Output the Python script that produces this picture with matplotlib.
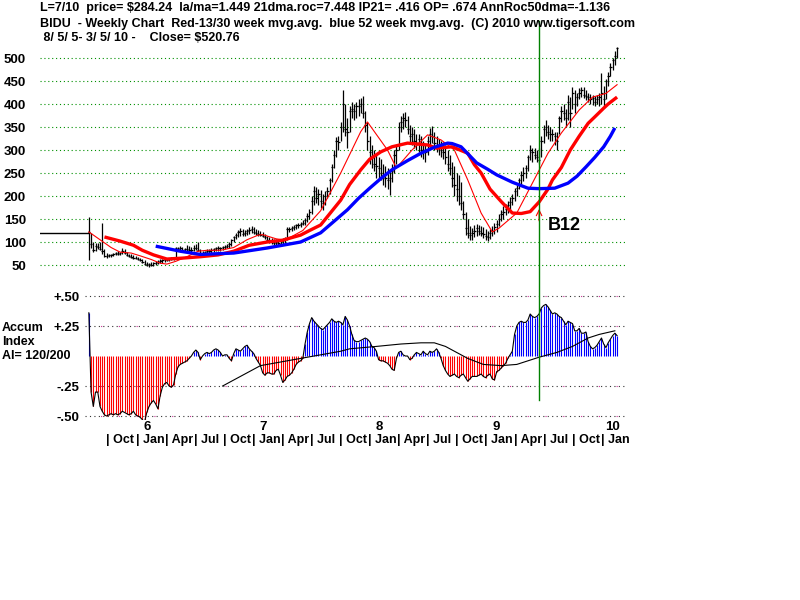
import numpy as np
import matplotlib
matplotlib.use('Agg')
import matplotlib.pyplot as plt
import matplotlib.transforms as mtransforms
from matplotlib.lines import Line2D

# weekly BIDU bars, first week = IPO week 8/5/2005
close = [122, 95, 82, 92, 90, 85, 80, 70, 70, 71,
         72, 74, 76, 74, 77, 80, 76, 72, 70, 68,
         66, 65, 62, 60, 56, 52, 50, 52, 50, 54,
         55, 57, 58, 60, 62, 61, 63, 64, 66, 86,
         84, 86, 82, 84, 85, 83, 82, 88, 86, 82,
         76, 75, 78, 80, 81, 82, 85, 86, 88, 86,
         89, 90, 92, 96, 104, 110, 116, 122, 124, 118,
         120, 124, 126, 128, 122, 120, 118, 116, 114, 110,
         104, 102, 100, 98, 100, 98, 102, 104, 106, 128,
         128, 130, 132, 136, 138, 140, 142, 148, 156, 166,
         190, 210, 195, 205, 190, 185, 200, 210, 235, 262,
         290, 320, 318, 350, 400, 345, 340, 385, 390, 385,
         395, 395, 400, 380, 355, 320, 295, 285, 270, 265,
         260, 250, 245, 240, 235, 240, 255, 290, 300, 350,
         360, 370, 365, 345, 330, 335, 320, 315, 325, 300,
         300, 295, 320, 335, 330, 315, 310, 305, 300, 295,
         285, 270, 260, 240, 225, 215, 200, 185, 160, 130,
         120, 115, 120, 125, 130, 125, 120, 118, 112, 110,
         120, 125, 132, 140, 150, 160, 165, 172, 180, 188,
         195, 210, 218, 235, 245, 250, 260, 285, 300, 295,
         290, 285, 278, 320, 345, 350, 340, 335, 335, 330,
         320, 370, 385, 380, 370, 405, 380, 425, 400, 415,
         425, 430, 420, 418, 415, 410, 412, 405, 410, 415,
         425, 410, 450, 460, 480, 495, 505, 520.76]
high = [154, 120, 100, 98, 97, 100, 142, 85, 76, 75,
        75, 77, 78, 80, 79, 86, 84, 78, 75, 74,
        72, 70, 68, 66, 62, 60, 56, 55, 57, 56,
        58, 60, 62, 63, 64, 66, 65, 67, 68, 90,
        90, 92, 90, 88, 94, 92, 90, 94, 96, 99,
        84, 80, 80, 84, 84, 86, 88, 90, 92, 90,
        92, 94, 96, 100, 106, 114, 120, 126, 130, 128,
        126, 128, 132, 134, 132, 128, 126, 124, 122, 118,
        114, 110, 108, 106, 106, 104, 106, 108, 110, 132,
        132, 134, 136, 140, 142, 144, 148, 152, 162, 172,
        200, 222, 220, 215, 212, 205, 210, 220, 240, 270,
        300, 328, 330, 360, 430, 400, 370, 395, 405, 400,
        405, 410, 412, 418, 385, 360, 330, 310, 300, 290,
        285, 280, 270, 265, 260, 255, 270, 300, 310, 360,
        375, 380, 382, 375, 355, 350, 345, 335, 335, 330,
        320, 310, 330, 348, 352, 340, 330, 325, 320, 318,
        310, 300, 290, 275, 265, 250, 245, 230, 190, 165,
        150, 135, 130, 138, 140, 138, 135, 132, 128, 125,
        128, 135, 142, 148, 160, 170, 178, 182, 190, 198,
        205, 218, 225, 240, 255, 262, 268, 290, 310, 305,
        305, 300, 305, 330, 355, 365, 355, 350, 345, 340,
        340, 375, 395, 400, 390, 420, 415, 437, 430, 425,
        435, 438, 436, 430, 425, 422, 420, 418, 420, 425,
        468, 440, 455, 470, 490, 500, 515, 525]
low = [61, 88, 78, 80, 84, 82, 74, 68, 66, 67,
       68, 70, 71, 72, 72, 74, 74, 70, 68, 66,
       64, 62, 60, 58, 54, 50, 47, 46, 48, 47,
       50, 52, 54, 55, 57, 58, 58, 60, 61, 62,
       80, 80, 78, 78, 80, 80, 78, 80, 82, 80,
       72, 72, 73, 75, 76, 77, 78, 80, 81, 80,
       82, 84, 86, 88, 92, 100, 106, 110, 114, 114,
       114, 116, 118, 120, 118, 116, 114, 112, 110, 106,
       100, 98, 96, 94, 94, 94, 96, 96, 98, 104,
       122, 124, 126, 128, 130, 132, 136, 138, 144, 150,
       160, 180, 185, 180, 175, 170, 180, 195, 205, 230,
       260, 285, 300, 320, 340, 330, 305, 340, 370, 365,
       370, 375, 380, 370, 340, 300, 270, 260, 255, 240,
       240, 235, 225, 220, 215, 202, 230, 250, 270, 300,
       340, 345, 350, 335, 315, 310, 305, 300, 295, 285,
       280, 275, 290, 310, 315, 300, 295, 290, 285, 280,
       270, 255, 245, 220, 200, 190, 180, 170, 150, 115,
       108, 105, 104, 110, 112, 115, 112, 108, 104, 102,
       106, 112, 118, 122, 135, 145, 150, 158, 162, 170,
       180, 190, 200, 215, 225, 232, 240, 255, 278, 275,
       280, 275, 270, 285, 315, 330, 325, 320, 320, 310,
       300, 335, 360, 365, 350, 365, 350, 390, 380, 395,
       410, 415, 412, 408, 405, 400, 398, 395, 400, 395,
       400, 395, 410, 440, 460, 475, 485, 500]
pre_ipo_level = 120

# moving averages (week index, value)
ma13_wk = [0, 5, 10, 14, 19, 23, 28, 32, 35, 39, 44, 49, 53, 59, 65, 71, 76, 78, 84, 88, 96,
           104, 113, 119, 122, 125, 134, 138, 145, 152, 158, 164, 170, 176, 181, 184, 192,
           199, 206, 212, 220, 226, 232, 237]
ma13 = [122, 105, 88, 78, 76, 70, 62, 54, 52, 58, 68, 80, 82, 82, 88, 105, 115, 116, 107, 104, 125,
        168, 250, 310, 340, 361, 300, 261, 300, 333, 322, 300, 235, 163, 122, 130, 163,
        228, 293, 337, 387, 415, 423, 442]
ma30_wk = [7, 14, 20, 24, 29, 35, 42, 50, 58, 65, 72, 80, 87, 95, 99, 104, 113, 117, 122, 126,
           131, 136, 143, 152, 156, 163, 170, 173, 176, 180, 185, 187, 190, 194, 198, 202, 206,
           208, 212, 216, 220, 224, 227, 231, 233, 237]
ma30 = [111, 102, 93, 82, 72, 63, 65, 68, 72, 80, 93, 100, 104, 115, 125, 137, 191, 225, 257, 280,
        296, 307, 315, 311, 304, 307, 293, 268, 250, 215, 188, 178, 163, 162, 166, 187, 215,
        235, 262, 300, 330, 358, 372, 391, 400, 415]
ma52_wk = [30, 41, 50, 65, 80, 95, 104, 110, 116, 121, 126, 131, 136, 143, 149, 155, 161, 163,
           167, 170, 174, 179, 183, 190, 197, 202, 209, 215, 219, 223, 227, 231, 234, 236]
ma52 = [91, 80, 73, 76, 87, 100, 120, 145, 170, 195, 217, 238, 257, 277, 293, 306, 315, 314,
        307, 292, 272, 258, 246, 230, 217, 216, 217, 228, 243, 263, 284, 307, 330, 348]

# accumulation index, weekly
accum = [0.36, -0.30, -0.42, -0.30, -0.30, -0.42, -0.46, -0.49, -0.50, -0.49,
         -0.48, -0.49, -0.48, -0.49, -0.48, -0.46, -0.47, -0.48, -0.49, -0.48,
         -0.46, -0.49, -0.50, -0.51, -0.53, -0.55, -0.47, -0.42, -0.39, -0.37,
         -0.40, -0.44, -0.33, -0.26, -0.23, -0.22, -0.25, -0.26, -0.24, -0.15,
         -0.09, -0.07, -0.06, -0.05, -0.04, -0.02, 0.00, 0.03, 0.05, 0.03,
         -0.03, 0.00, 0.02, 0.03, 0.02, 0.03, 0.05, 0.06, 0.05, 0.03,
         0.00, 0.01, 0.01, -0.02, -0.04, 0.02, 0.06, 0.05, 0.04, 0.06,
         0.08, 0.09, 0.06, 0.04, 0.02, -0.02, -0.05, -0.08, -0.14, -0.16,
         -0.14, -0.14, -0.15, -0.15, -0.12, -0.11, -0.16, -0.22, -0.20, -0.17,
         -0.16, -0.14, -0.11, -0.07, -0.05, -0.04, -0.02, 0.10, 0.20, 0.27,
         0.32, 0.29, 0.27, 0.25, 0.23, 0.22, 0.24, 0.26, 0.28, 0.31,
         0.29, 0.28, 0.29, 0.28, 0.26, 0.33, 0.30, 0.25, 0.18, 0.13,
         0.12, 0.12, 0.13, 0.14, 0.15, 0.14, 0.12, 0.08, 0.07, 0.04,
         -0.03, -0.04, -0.04, -0.05, -0.06, -0.08, -0.11, -0.12, -0.02, 0.03,
         0.04, 0.01, 0.00, 0.00, -0.03, -0.02, 0.01, 0.03, 0.02, 0.01,
         0.04, 0.02, 0.01, 0.04, 0.03, 0.04, 0.06, 0.03, -0.02, -0.08,
         -0.12, -0.15, -0.17, -0.16, -0.15, -0.17, -0.18, -0.16, -0.15, -0.18,
         -0.21, -0.19, -0.17, -0.17, -0.17, -0.16, -0.15, -0.17, -0.18, -0.16,
         -0.15, -0.19, -0.20, -0.13, -0.12, -0.10, -0.08, -0.06, -0.02, 0.01,
         0.04, 0.18, 0.25, 0.28, 0.29, 0.28, 0.28, 0.30, 0.35, 0.33,
         0.32, 0.33, 0.35, 0.40, 0.42, 0.43, 0.41, 0.38, 0.35, 0.36,
         0.35, 0.33, 0.32, 0.29, 0.26, 0.29, 0.28, 0.27, 0.21, 0.21,
         0.23, 0.19, 0.19, 0.20, 0.12, 0.08, 0.06, 0.07, 0.09, 0.12,
         0.15, 0.10, 0.07, 0.11, 0.14, 0.17, 0.19, 0.17]
ai_ma_wk = [60, 68, 77, 86, 95, 104, 113, 117, 129, 140, 149, 155, 160, 170, 177, 185, 192, 202,
            210, 217, 224, 229, 236]
ai_ma = [-0.25, -0.17, -0.08, -0.05, -0.02, 0.01, 0.04, 0.06, 0.08, 0.10, 0.11, 0.11, 0.08, -0.02,
         -0.07, -0.08, -0.07, -0.01, 0.03, 0.08, 0.15, 0.18, 0.21]

b12_week = 202
price_ticks = [50, 100, 150, 200, 250, 300, 350, 400, 450, 500]
ai_ticks = [0.5, 0.25, -0.25, -0.5]
ai_tick_labels = ['+.50', '+.25', '-.25', '-.50']
quarter_names = ['Oct', 'Jan', 'Apr', 'Jul']
year_labels = ['6', '7', '8', '9', '10']

title1 = 'L=7/10  price= $284.24  la/ma=1.449 21dma.roc=7.448 IP21= .416 OP= .674 AnnRoc50dma=-1.136'
title2 = 'BIDU  - Weekly Chart  Red-13/30 week mvg.avg.  blue 52 week mvg.avg.  (C) 2010 www.tigersoft.com'
title3 = ' 8/ 5/ 5- 3/ 5/ 10 -    Close= $520.76'

t0 = 2005 + 217 / 365.0   # Aug 5 2005
wpy = 52.18


def wk2t(w):
    return t0 + np.asarray(w, dtype=float) / wpy


def px_year(px):
    return 2006 + (px - 136) / 116.3


plt.rcParams['font.family'] = ['Liberation Sans', 'DejaVu Sans']
plt.rcParams['font.weight'] = 'bold'

fig = plt.figure(figsize=(8, 6), dpi=100)
W, H = 800.0, 600.0
axp = fig.add_axes([40 / W, 1 - 268 / H, 585 / W, 223 / H])
axi = fig.add_axes([85 / W, 1 - 420 / H, 540 / W, 130 / H])

t = wk2t(np.arange(len(close)))

# ---- price panel
for p in price_ticks:
    axp.axhline(p, color='#009000', lw=0.8, ls=(0, (1, 2.5)), zorder=0)
axp.plot([px_year(40), t0], [pre_ipo_level, pre_ipo_level], color='black', lw=1)
axp.vlines(t, low, high, color='black', lw=0.9)
axp.hlines(close, t - 0.008, t + 0.012, color='black', lw=0.9)
axp.plot(wk2t(ma13_wk), ma13, color='red', lw=0.8)
axp.plot(wk2t(ma30_wk), ma30, color='red', lw=2.4, solid_capstyle='butt', solid_joinstyle='round')
axp.plot(wk2t(ma52_wk), ma52, color='#0000ff', lw=2.4, solid_capstyle='butt', solid_joinstyle='round')

tb = wk2t(b12_week)
axp.annotate('', xy=(tb, 178), xytext=(tb, 140),
             arrowprops=dict(arrowstyle='->', color='red', lw=0.8, mutation_scale=10))
axp.text(px_year(548), 135, 'B12', fontsize=13, fontweight='bold', va='center', ha='left')

axp.set_xlim(px_year(40), px_year(625))
axp.set_ylim(43.5, 528.3)
axp.set_yticks(price_ticks)
axp.tick_params(axis='y', length=0, pad=10, labelsize=9.5)
axp.set_xticks([])
for s in axp.spines.values():
    s.set_visible(False)
axp.patch.set_alpha(0)

# ---- accumulation index panel
for v in ai_ticks:
    axi.axhline(v, color='#333333', lw=0.8, ls=(0, (1, 3)), zorder=0)
    axi.axhline(v, color='#cc3399', lw=0.8, ls=(2, (1, 15)), zorder=0)
acc = np.array(accum)
axi.vlines(t, 0, acc, colors=np.where(acc < 0, 'red', 'blue'), lw=0.8)
axi.plot(t, acc, color='black', lw=0.8)
axi.plot(wk2t(ai_ma_wk), ai_ma, color='black', lw=0.8)

axi.set_xlim(px_year(85), px_year(625))
axi.set_ylim(-0.533, 0.55)
axi.set_yticks(ai_ticks)
axi.set_yticklabels(ai_tick_labels)
axi.tick_params(axis='y', length=0, pad=4, labelsize=9.5)
axi.set_xticks([])
for s in axi.spines.values():
    s.set_visible(False)
axi.patch.set_alpha(0)

# time labels
tr = axi.get_xaxis_transform()
for k in range(18):
    q = 2005.75 + 0.25 * k
    axi.text(q - 0.004, -0.154, '| ' + quarter_names[k % 4], transform=tr,
             fontsize=9, ha='left', va='center')
for k, lab in enumerate(year_labels):
    axi.text(2006 + k + 0.095, -0.054, lab, transform=tr, fontsize=9.5, ha='center', va='center')

# signal line across both panels
gl = Line2D([tb, tb], [1 - 21 / H, 1 - 400 / H], color='#008000', lw=1,
            transform=mtransforms.blended_transform_factory(axp.transData, fig.transFigure))
fig.add_artist(gl)

fig.text(40 / W, 1 - 8 / H, title1, fontsize=9, va='center', ha='left')
fig.text(40 / W, 1 - 24 / H, title2, fontsize=9, va='center', ha='left')
fig.text(40 / W, 1 - 38 / H, title3, fontsize=9, va='center', ha='left')
fig.text(2 / W, 1 - 328 / H, 'Accum', fontsize=9, va='center', ha='left')
fig.text(2 / W, 1 - 342 / H, 'Index', fontsize=9, va='center', ha='left')
fig.text(2 / W, 1 - 356 / H, 'AI= 120/200', fontsize=9, va='center', ha='left')

fig.savefig('out.png', dpi=100, facecolor='white')
